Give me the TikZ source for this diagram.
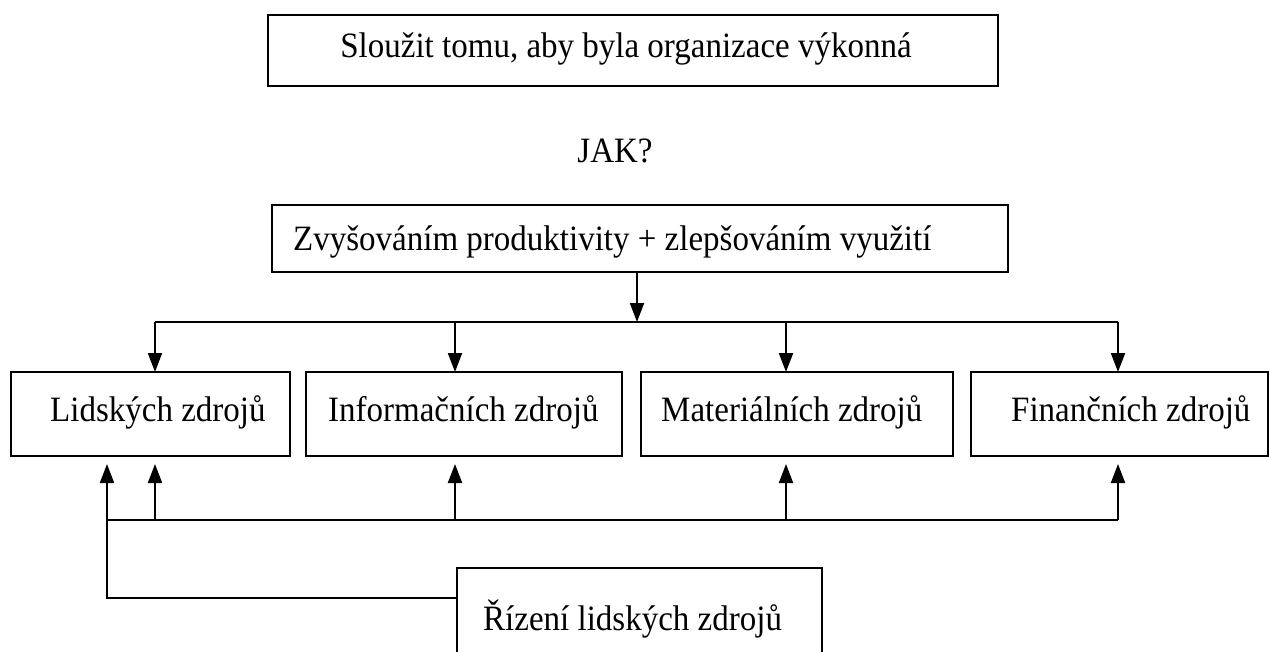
\documentclass[tikz,border=0pt]{standalone}
\usepackage{graphicx}
\usepackage{fontspec}
\setmainfont{Liberation Serif}
\usetikzlibrary{arrows.meta}
% slightly tall text, as in the printed scheme
\newcommand{\talltext}[1]{\scalebox{1}[1.08]{#1}}
\begin{document}
\begin{tikzpicture}[x=1pt,y=-1pt,
  box/.style={draw,line width=2pt,inner sep=0pt,outer sep=0pt},
  txt/.style={inner sep=0pt,font=\fontsize{33}{40}\selectfont},
  link/.style={line width=2pt},
  arr/.style={line width=2pt,-{Triangle[width=14pt,length=19pt]}}]
\clip (0,0) rectangle (1269,651);
% boxes
\node[box,minimum width=730pt,minimum height=71pt] (goal) at (633,50.5) {};
\node[box,minimum width=736pt,minimum height=67pt] (means) at (640,238.5) {};
\node[box,minimum width=279pt,minimum height=84pt] (r1) at (150.5,414) {};
\node[box,minimum width=316pt,minimum height=84pt] (r2) at (464,414) {};
\node[box,minimum width=312pt,minimum height=84pt] (r3) at (797,414) {};
\node[box,minimum width=297pt,minimum height=84pt] (r4) at (1119.5,414) {};
\node[box,minimum width=365pt,minimum height=97pt] (hrm) at (639.5,616.5) {};
% texts
\node[txt,anchor=base] (tgoal) at (626,57) {\talltext{Sloužit tomu, aby byla organizace výkonná}};
\node[txt,anchor=base] (tjak) at (615,162) {\talltext{JAK?}};
\node[txt,anchor=base west] (tmeans) at (293,250) {\talltext{Zvyšováním produktivity + zlepšováním využití}};
\node[txt,anchor=base west] (t1) at (50,421) {\talltext{Lidských zdrojů}};
\node[txt,anchor=base west] (t2) at (328,421) {\talltext{Informačních zdrojů}};
\node[txt,anchor=base west] (t3) at (661,421) {\talltext{Materiálních zdrojů}};
\node[txt,anchor=base west] (t4) at (1011,421) {\talltext{Finančních zdrojů}};
\node[txt,anchor=base west] (t5) at (483,630) {\talltext{Řízení lidských zdrojů}};
% upper distribution bus
\coordinate (j0) at (637,322);
\coordinate (d1) at (155,322);
\coordinate (d2) at (455,322);
\coordinate (d3) at (786,322);
\coordinate (d4) at (1118,322);
\draw[link] (d1) -- (d4);
\draw[arr] (means.south -| j0) -- (j0);
\draw[arr] (d1) -- (d1 |- r1.north);
\draw[arr] (d2) -- (d2 |- r2.north);
\draw[arr] (d3) -- (d3 |- r3.north);
\draw[arr] (d4) -- (d4 |- r4.north);
% lower feedback bus
\coordinate (c0) at (107,598);
\coordinate (u0) at (107,520);
\coordinate (u1) at (155,520);
\coordinate (u2) at (455,520);
\coordinate (u3) at (786,520);
\coordinate (u4) at (1118,520);
\draw[link] (u0) -- (u4);
\draw[arr,shorten >=8pt] (hrm.west |- c0) -- (c0) -- (c0 |- r1.south);
\draw[arr,shorten >=8pt] (u1) -- (u1 |- r1.south);
\draw[arr,shorten >=8pt] (u2) -- (u2 |- r2.south);
\draw[arr,shorten >=8pt] (u3) -- (u3 |- r3.south);
\draw[arr,shorten >=8pt] (u4) -- (u4 |- r4.south);
\end{tikzpicture}
\end{document}
